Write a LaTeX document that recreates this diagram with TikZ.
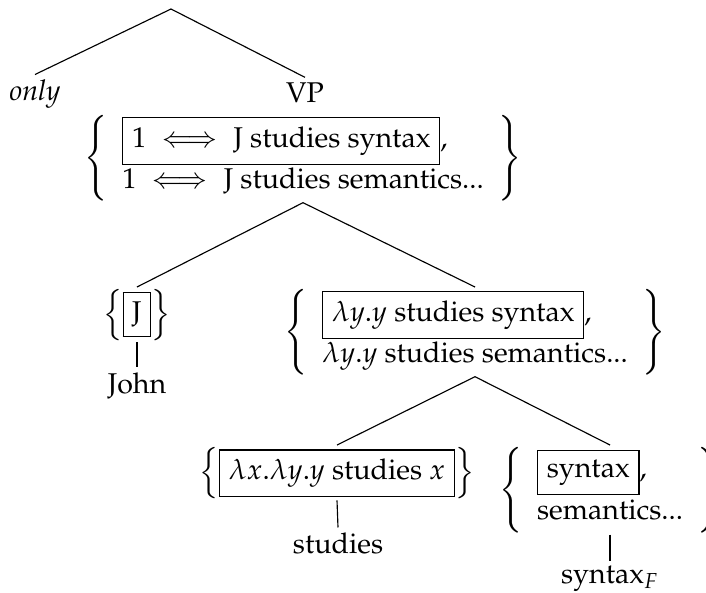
\documentclass[tikz,border=0pt]{standalone}
\usepackage[T1]{fontenc}
\usepackage{amsmath}
\usepackage{mathpazo}
\usepackage{tikz}
\def\altset#1#2{$\left\{\begin{array}{l}\fbox{#1},\\#2\end{array}\right\}$}
\def\oneset#1{$\left\{\fbox{#1}\right\}$}

\begin{document}
\begin{tikzpicture}[x=0.35pt,y=-0.35pt,den/.style={inner sep=0.5pt,anchor=north},word/.style={inner sep=1.5pt,anchor=base}]
	\useasboundingbox (0,0) rectangle (706,592);
	% cut-off label above the right edge
	\node[anchor=base,inner sep=0pt] (cut) at (582,-6) {[\hspace{5pt}]};
	\coordinate (root) at (171,9);
	\node[word] (only) at (35,100) {\textit{only}};
	\node[word] (vp) at (305,102) {VP};
	\node[den] (vpden) at (303,113) {\altset{$1\iff\text{J studies syntax}$}{1\iff\text{J studies semantics...}}};
	\node[den] (jden) at (137,287) {\oneset{J}};
	\node[word] (john) at (137,393) {John};
	\node[den] (vbar) at (475,287) {\altset{$\lambda y.y$ studies syntax}{\lambda y.y\text{ studies semantics...}}};
	\node[den] (vden) at (337,445) {\oneset{$\lambda x.\lambda y.y$ studies $x$}};
	\node[word] (studies) at (338,553) {studies};
	\node[den] (oden) at (610,445) {\altset{syntax}{\text{semantics...}}};
	\node[word] (obj) at (610,583) {syntax$_F$};
	\draw (root)--(only.north);
	\draw (root)--(vp.north);
	\draw (vpden.south)--(jden.north);
	\draw (vpden.south)--(vbar.north);
	\draw (jden.south)--(john.north);
	\draw (vbar.south)--(vden.north);
	\draw (vbar.south)--(oden.north);
	\draw (vden.south)--(studies.north);
	\draw (oden.south)--(obj.north);
\end{tikzpicture}
\end{document}
